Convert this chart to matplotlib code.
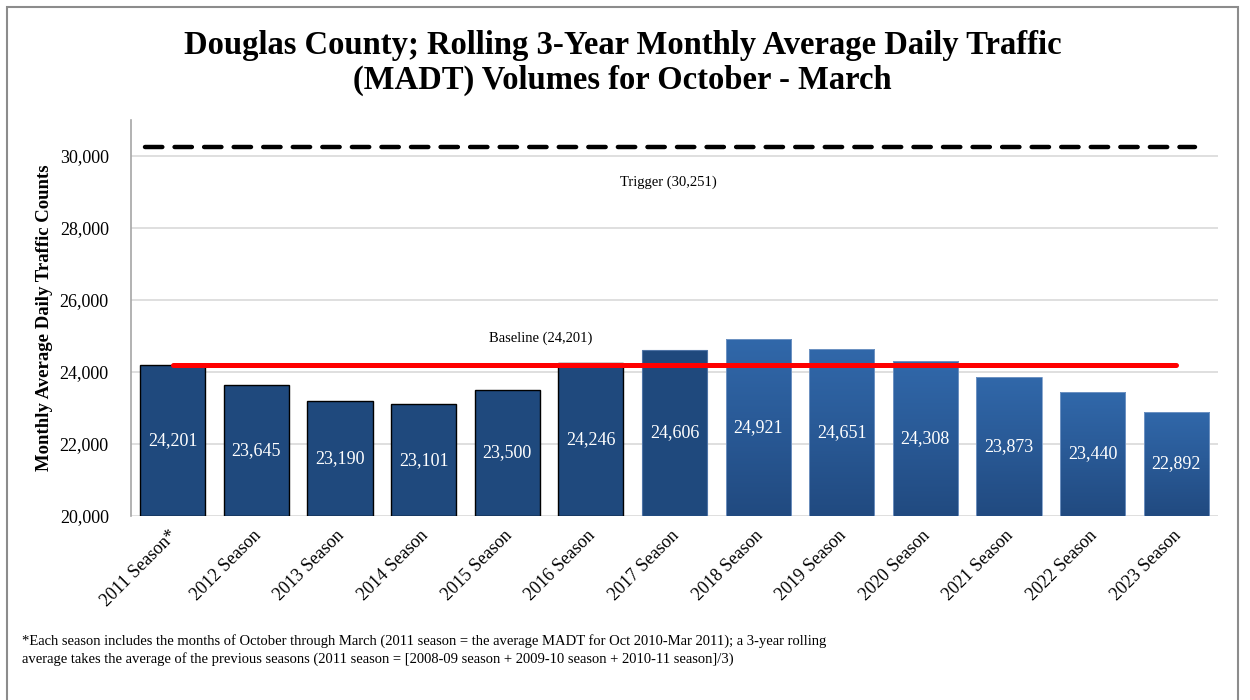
import matplotlib
matplotlib.use("Agg")
import matplotlib.pyplot as plt
import matplotlib.transforms as mtransforms
import numpy as np
from matplotlib.patches import Rectangle
from matplotlib.colors import LinearSegmentedColormap
from matplotlib.ticker import FuncFormatter

seasons = ["2011 Season*", "2012 Season", "2013 Season", "2014 Season", "2015 Season",
           "2016 Season", "2017 Season", "2018 Season", "2019 Season", "2020 Season",
           "2021 Season", "2022 Season", "2023 Season"]
madt = [24201, 23645, 23190, 23101, 23500, 24246, 24606, 24921, 24651, 24308, 23873, 23440, 22892]
trigger = 30251
baseline = 24201
y_ticks = [20000, 22000, 24000, 26000, 28000, 30000]

plt.rcParams['font.family'] = ['Liberation Serif', 'DejaVu Serif']

fig = plt.figure(figsize=(12.5, 7), dpi=100)
ax = fig.add_axes([0.1048, 0.2629, 0.8696, 0.5657])

x = np.arange(len(seasons))
styles = []
for i in range(len(seasons)):
    if i <= 5:
        styles.append(dict(fc="#1F497D", ec="black", lw=1.0))
    elif i == 6:
        styles.append(dict(fc="#1F497D", ec="#4F74A6", lw=0.8))
    else:
        styles.append(dict(fc="none", ec="#7A9BC8", lw=0.6))

bars = ax.bar(x, [v - 20000 for v in madt], bottom=20000, width=0.78, zorder=3)
for b, st in zip(bars, styles):
    b.set_facecolor(st["fc"])
    b.set_edgecolor(st["ec"])
    b.set_linewidth(st["lw"])

cmap = LinearSegmentedColormap.from_list("g", [(0, "#214A80"), (0.55, "#2A5B98"), (1, "#3168AA")])
grad = np.linspace(0, 1, 256).reshape(-1, 1)
for i, b in enumerate(bars):
    if i >= 7:
        x0, y0 = b.get_x(), b.get_y()
        w, h = b.get_width(), b.get_height()
        im = ax.imshow(grad, cmap=cmap, origin="lower", aspect="auto",
                       extent=[x0, x0 + w, y0, y0 + h], zorder=2.9)
        im.set_clip_path(b)

for i, (b, v) in enumerate(zip(bars, madt)):
    ax.text(b.get_x() + b.get_width() / 2, (20000 + v) / 2, f"{v:,}",
            ha="center", va="center", color="white", fontsize=13, zorder=5)

ax.plot([0, len(seasons) - 1], [baseline, baseline], color="#FF0000", lw=3.6, zorder=4,
        solid_capstyle="round")
ax.plot([-0.333, len(seasons) - 0.77], [trigger, trigger], color="black", lw=3.2,
        dashes=(3.9, 2.75), zorder=4, dash_capstyle="round")

ax.text(4.4, 24930, f"Baseline ({baseline:,})", ha="center", va="center", fontsize=10.5)
ax.text(5.93, 29280, f"Trigger ({trigger:,})", ha="center", va="center", fontsize=10.5)

ax.set_xlim(-0.5, len(seasons) - 0.5)
ax.set_ylim(20000, 31000)
ax.set_yticks(y_ticks)
ax.yaxis.set_major_formatter(FuncFormatter(lambda v, p: f"{int(v):,}"))
ax.tick_params(axis="y", length=0, pad=16, labelsize=13)
ax.set_xticks(x)
ax.set_xticklabels(seasons, rotation=45, ha="right", fontsize=13)
ax.tick_params(axis="x", length=0, pad=8)
offset = mtransforms.ScaledTranslation(8 / 100, 0, fig.dpi_scale_trans)
for lbl in ax.get_xticklabels():
    lbl.set_transform(lbl.get_transform() + offset)
ax.grid(axis="y", color="#D9D9D9", lw=1.2, zorder=0)
ax.set_axisbelow(True)
for s in ["top", "right", "bottom"]:
    ax.spines[s].set_visible(False)
ax.spines["left"].set_color("#A6A6A6")
ax.spines["left"].set_linewidth(1.2)

ax.set_ylabel("Monthly Average Daily Traffic Counts", fontsize=13.5, fontweight="bold", labelpad=5)

fig.text(0.498, 1 - 30 / 700, "Douglas County; Rolling 3-Year Monthly Average Daily Traffic\n(MADT) Volumes for October - March",
         ha="center", va="top", fontsize=23.5, fontweight="bold", linespacing=1.17)

fig.text(0.0176, 0.0485,
         "*Each season includes the months of October through March (2011 season = the average MADT for Oct 2010-Mar 2011); a 3-year rolling\n"
         "average takes the average of the previous seasons (2011 season = [2008-09 season + 2009-10 season + 2010-11 season]/3)",
         ha="left", va="bottom", fontsize=10.5, linespacing=1.42)

fig.patches.append(Rectangle((0.0056, -0.02), 0.9848, 1.01, transform=fig.transFigure,
                             fill=False, ec="#8C8C8C", lw=1.5))

fig.savefig("out.png", dpi=100)
